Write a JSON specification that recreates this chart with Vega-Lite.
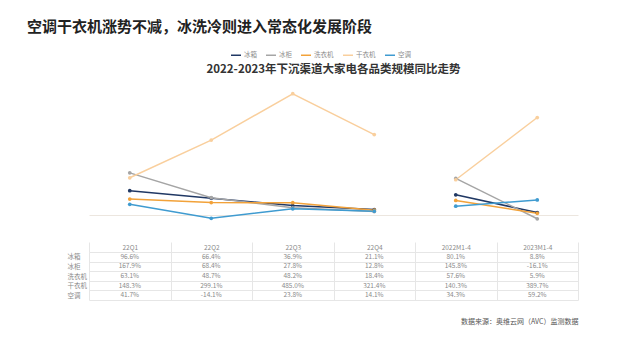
{
  "$schema": "https://vega.github.io/schema/vega-lite/v6.json",
  "padding": {"left": 27, "top": 20, "right": 10, "bottom": 6},
  "background": "white",
  "config": {"font": "Noto Sans CJK SC", "view": {"stroke": null}},
  "title": {"text": "空调干衣机涨势不减，冰洗冷则进入常态化发展阶段", "anchor": "start", "fontSize": 15, "fontWeight": "bold", "color": "#222222", "offset": 14, "dx": -40},
  "data": {"values": [
      {"cat": "22Q1", "series": "冰箱", "value": 96.6, "seg": "A"},
      {"cat": "22Q2", "series": "冰箱", "value": 66.4, "seg": "A"},
      {"cat": "22Q3", "series": "冰箱", "value": 36.9, "seg": "A"},
      {"cat": "22Q4", "series": "冰箱", "value": 21.1, "seg": "A"},
      {"cat": "2022M1-4", "series": "冰箱", "value": 80.1, "seg": "B"},
      {"cat": "2023M1-4", "series": "冰箱", "value": 8.8, "seg": "B"},
      {"cat": "22Q1", "series": "冰柜", "value": 167.9, "seg": "A"},
      {"cat": "22Q2", "series": "冰柜", "value": 68.4, "seg": "A"},
      {"cat": "22Q3", "series": "冰柜", "value": 27.8, "seg": "A"},
      {"cat": "22Q4", "series": "冰柜", "value": 12.8, "seg": "A"},
      {"cat": "2022M1-4", "series": "冰柜", "value": 145.8, "seg": "B"},
      {"cat": "2023M1-4", "series": "冰柜", "value": -16.1, "seg": "B"},
      {"cat": "22Q1", "series": "洗衣机", "value": 63.1, "seg": "A"},
      {"cat": "22Q2", "series": "洗衣机", "value": 48.7, "seg": "A"},
      {"cat": "22Q3", "series": "洗衣机", "value": 48.2, "seg": "A"},
      {"cat": "22Q4", "series": "洗衣机", "value": 18.4, "seg": "A"},
      {"cat": "2022M1-4", "series": "洗衣机", "value": 57.6, "seg": "B"},
      {"cat": "2023M1-4", "series": "洗衣机", "value": 5.9, "seg": "B"},
      {"cat": "22Q1", "series": "干衣机", "value": 148.3, "seg": "A"},
      {"cat": "22Q2", "series": "干衣机", "value": 299.1, "seg": "A"},
      {"cat": "22Q3", "series": "干衣机", "value": 485.0, "seg": "A"},
      {"cat": "22Q4", "series": "干衣机", "value": 321.4, "seg": "A"},
      {"cat": "2022M1-4", "series": "干衣机", "value": 140.3, "seg": "B"},
      {"cat": "2023M1-4", "series": "干衣机", "value": 389.7, "seg": "B"},
      {"cat": "22Q1", "series": "空调", "value": 41.7, "seg": "A"},
      {"cat": "22Q2", "series": "空调", "value": -14.1, "seg": "A"},
      {"cat": "22Q3", "series": "空调", "value": 23.8, "seg": "A"},
      {"cat": "22Q4", "series": "空调", "value": 14.1, "seg": "A"},
      {"cat": "2022M1-4", "series": "空调", "value": 34.3, "seg": "B"},
      {"cat": "2023M1-4", "series": "空调", "value": 59.2, "seg": "B"}
  ]},
  "spacing": 19,
  "vconcat": [
    {
      "width": 489, "height": 136,
      "title": {"text": "2022-2023年下沉渠道大家电各品类规模同比走势", "fontSize": 11.5, "fontWeight": "bold", "color": "#333333", "anchor": "middle", "offset": 10},
      "encoding": {
        "x": {"field": "cat", "type": "nominal", "sort": null, "scale": {"type": "point", "padding": 0.5, "domain": ["22Q1", "22Q2", "22Q3", "22Q4", "2022M1-4", "2023M1-4"]}, "axis": null},
        "y": {"field": "value", "type": "quantitative", "scale": {"domain": [-25, 520], "nice": false, "zero": false}, "axis": {"values": [0], "grid": true, "gridColor": "#ece6df", "labels": false, "ticks": false, "domain": false, "title": null}},
        "color": {
          "field": "series", "type": "nominal",
          "scale": {"domain": ["冰箱", "冰柜", "洗衣机", "干衣机", "空调"], "range": ["#203864", "#a5a5a5", "#f2a23a", "#f9cf9d", "#3f9bd0"]},
          "legend": {"title": " ", "titleOrient": "left", "titleFontSize": 1, "titlePadding": 141, "orient": "top", "direction": "horizontal", "labelFontSize": 6.5, "labelColor": "#8c8c8c", "labelOffset": 2, "columnPadding": 6, "symbolType": "stroke", "symbolSize": 100, "symbolStrokeWidth": 1.5, "offset": 4}
        }
      },
      "layer": [
        {
          "mark": {"type": "line", "strokeWidth": 1.5},
          "encoding": {"detail": {"field": "seg", "type": "nominal"}}
        },
        {
          "mark": {"type": "point", "filled": true, "size": 14, "opacity": 1}
        }
      ]
    },
    {
      "width": 489, "height": 48,
      "title": {"text": "数据来源：奥维云网（AVC）监测数据", "orient": "bottom", "anchor": "end", "fontSize": 7, "fontWeight": "normal", "color": "#555555", "offset": 18},
      "transform": [{"calculate": "replace(format(datum.value, '.1f'), '\u2212', '-') + '%'", "as": "label"}],
      "mark": {"type": "text", "fontSize": 6.5, "color": "#8a8a8a"},
      "encoding": {
        "x": {"field": "cat", "type": "nominal", "sort": null, "scale": {"type": "band", "domain": ["22Q1", "22Q2", "22Q3", "22Q4", "2022M1-4", "2023M1-4"], "paddingInner": 0, "paddingOuter": 0}, "axis": {"orient": "top", "grid": true, "gridColor": "#e6e6e6", "tickBand": "extent", "ticks": true, "tickSize": 10, "tickColor": "#e6e6e6", "domain": true, "domainColor": "#e6e6e6", "labelAngle": 0, "labelFontSize": 6.5, "labelColor": "#8a8a8a", "labelPadding": -8, "title": null}},
        "y": {"field": "series", "type": "nominal", "scale": {"type": "band", "domain": ["冰箱", "冰柜", "洗衣机", "干衣机", "空调"], "paddingInner": 0, "paddingOuter": 0}, "axis": {"grid": true, "tickBand": "extent", "gridColor": "#e6e6e6", "ticks": false, "domain": false, "title": null, "labelFontSize": 6.5, "labelColor": "#8a8a8a", "labelAlign": "left", "labelPadding": 22}},
        "text": {"field": "label", "type": "nominal"}
      }
    }
  ]
}
